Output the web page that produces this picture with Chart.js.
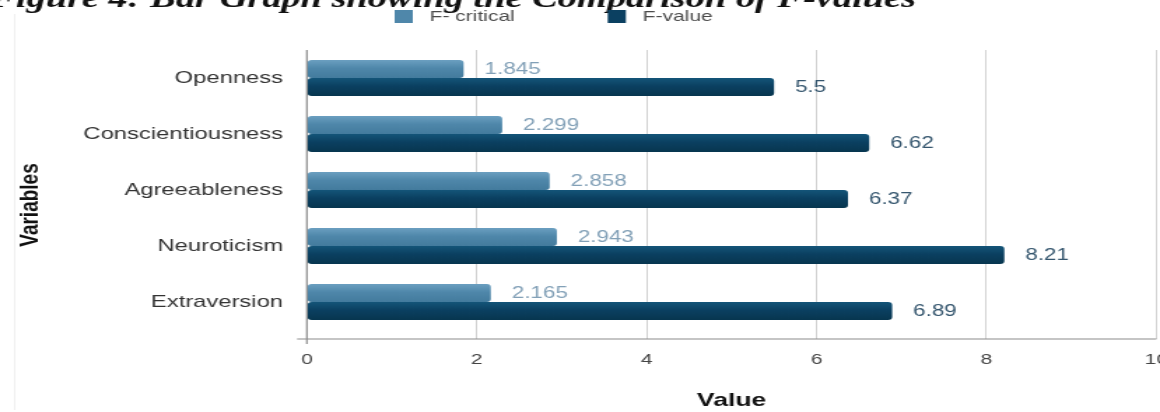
<!DOCTYPE html>
<html><head><meta charset="utf-8">
<script src="https://cdn.jsdelivr.net/npm/chart.js@4.4.1/dist/chart.umd.min.js"></script>
<style>
html,body{margin:0;padding:0;background:#fff;overflow:hidden}
#c{display:block}
</style></head><body>
<canvas id="c" width="829" height="412" style="width:1160px;height:412px"></canvas>
<script>
const categories = ['Openness', 'Conscientiousness', 'Agreeableness', 'Neuroticism', 'Extraversion'];
const fCritical = [1.845, 2.299, 2.858, 2.943, 2.165];
const fValue = [5.5, 6.62, 6.37, 8.21, 6.89];
const seriesNames = ['F- critical', 'F-value'];
const xMin = 0, xMax = 10, xStep = 2;
const titleText = 'Figure 4: Bar Graph showing the Comparison of F-values';
const xTitle = 'Value';
const yTitle = 'Variables';

const LIGHT = '#4f87aa', DARK = '#0b4061';
const LIGHT_GRAD = ['#6b9fc0', '#4f87aa', '#437b9d'];
const DARK_GRAD = ['#145579', '#0b4061', '#07364f'];
const LIGHT_LBL = '#82a0b7', DARK_LBL = '#35566e';
const SANS = "'Liberation Sans', Arial, sans-serif";
const CAT_PCT = 0.64;

function barFill(stops, di, solid) {
  return (c) => {
    const chart = c.chart, ys = chart.scales.y;
    if (!chart.chartArea || !ys || c.dataIndex === undefined) return solid;
    const band = ys.height / categories.length;
    const th = band * CAT_PCT / 2;
    const top = ys.getPixelForValue(c.dataIndex) - band * CAT_PCT / 2 + di * th;
    const g = chart.ctx.createLinearGradient(0, top, 0, top + th);
    g.addColorStop(0, stops[0]);
    g.addColorStop(0.45, stops[1]);
    g.addColorStop(1, stops[2]);
    return g;
  };
}

const decor = {
  id: 'decor',
  afterDatasetsDraw(chart) {
    const ctx = chart.ctx, ca = chart.chartArea;
    ctx.save();
    ctx.strokeStyle = '#8c8c8c';
    ctx.lineWidth = 1.2;
    ctx.beginPath();
    ctx.moveTo(ca.left, ca.top);
    ctx.lineTo(ca.left, ca.bottom + 14);
    ctx.moveTo(ca.left - 7, ca.bottom + 9);
    ctx.lineTo(ca.right, ca.bottom + 9);
    ctx.stroke();
    ctx.font = '16px ' + SANS;
    ctx.textBaseline = 'middle';
    ctx.textAlign = 'left';
    chart.data.datasets.forEach((ds, di) => {
      const meta = chart.getDatasetMeta(di);
      ctx.fillStyle = di === 0 ? LIGHT_LBL : DARK_LBL;
      meta.data.forEach((el, i) => {
        ctx.fillText(String(ds.data[i]), el.x + 15, el.y + 1);
      });
    });
    ctx.restore();
  },
  afterDraw(chart) {
    const ctx = chart.ctx;
    ctx.save();
    ctx.strokeStyle = '#efefef';
    ctx.lineWidth = 1;
    ctx.beginPath();
    ctx.moveTo(10.5, 14); ctx.lineTo(10.5, 410);
    ctx.stroke();
    ctx.fillStyle = '#111';
    ctx.font = "bold italic 10px 'Liberation Serif', serif";
    const w10 = ctx.measureText(titleText).width;
    const fs = 10 * 662 / w10;
    ctx.font = "bold italic " + fs.toFixed(2) + "px 'Liberation Serif', serif";
    ctx.textBaseline = 'alphabetic';
    ctx.textAlign = 'left';
    ctx.fillText(titleText, -7, 7);
    ctx.font = '15px ' + SANS;
    ctx.textBaseline = 'middle';
    const legX = [282, 434.3];
    const cols = [LIGHT, DARK];
    seriesNames.forEach((n, i) => {
      ctx.fillStyle = cols[i];
      ctx.fillRect(legX[i], 10, 13, 13);
      ctx.fillStyle = '#4a4a4a';
      ctx.fillText(n, legX[i] + 25, 17);
    });
    ctx.save();
    ctx.translate(21.4, 205);
    ctx.rotate(-Math.PI / 2);
    ctx.font = 'bold 19px ' + SANS;
    ctx.fillStyle = '#111';
    ctx.textAlign = 'center';
    ctx.textBaseline = 'middle';
    ctx.fillText(yTitle, 0, 0);
    ctx.restore();
    ctx.restore();
  }
};

new Chart(document.getElementById('c'), {
  type: 'bar',
  data: {
    labels: categories,
    datasets: [
      { label: seriesNames[0], data: fCritical, backgroundColor: barFill(LIGHT_GRAD, 0, LIGHT) },
      { label: seriesNames[1], data: fValue, backgroundColor: barFill(DARK_GRAD, 1, DARK) }
    ]
  },
  options: {
    indexAxis: 'y',
    responsive: false,
    animation: false,
    devicePixelRatio: 1,
    layout: { padding: { left: 0, right: 2.6, top: 50, bottom: 0 } },
    datasets: {
      bar: { categoryPercentage: CAT_PCT, barPercentage: 1.0, borderRadius: 3, borderSkipped: false }
    },
    plugins: { legend: { display: false }, title: { display: false }, tooltip: { enabled: false } },
    scales: {
      x: {
        type: 'linear', min: xMin, max: xMax,
        ticks: { stepSize: xStep, font: { size: 15, family: SANS }, color: '#444', padding: 12 },
        grid: { color: '#d2d2d2', lineWidth: 1, drawTicks: true, tickLength: 9 },
        border: { display: false },
        title: { display: true, text: xTitle, font: { size: 19, weight: 'bold', family: SANS }, color: '#111', padding: 0 },
        afterFit(s) { s.height = 82; s.paddingRight = 0; s.paddingLeft = 0; }
      },
      y: {
        type: 'category',
        ticks: { font: { size: 17, family: SANS }, color: '#333', padding: 17 },
        grid: { display: false, drawTicks: false },
        border: { display: false },
        afterFit(s) { s.width = 219.3; }
      }
    }
  },
  plugins: [decor]
});
</script>
</body></html>
